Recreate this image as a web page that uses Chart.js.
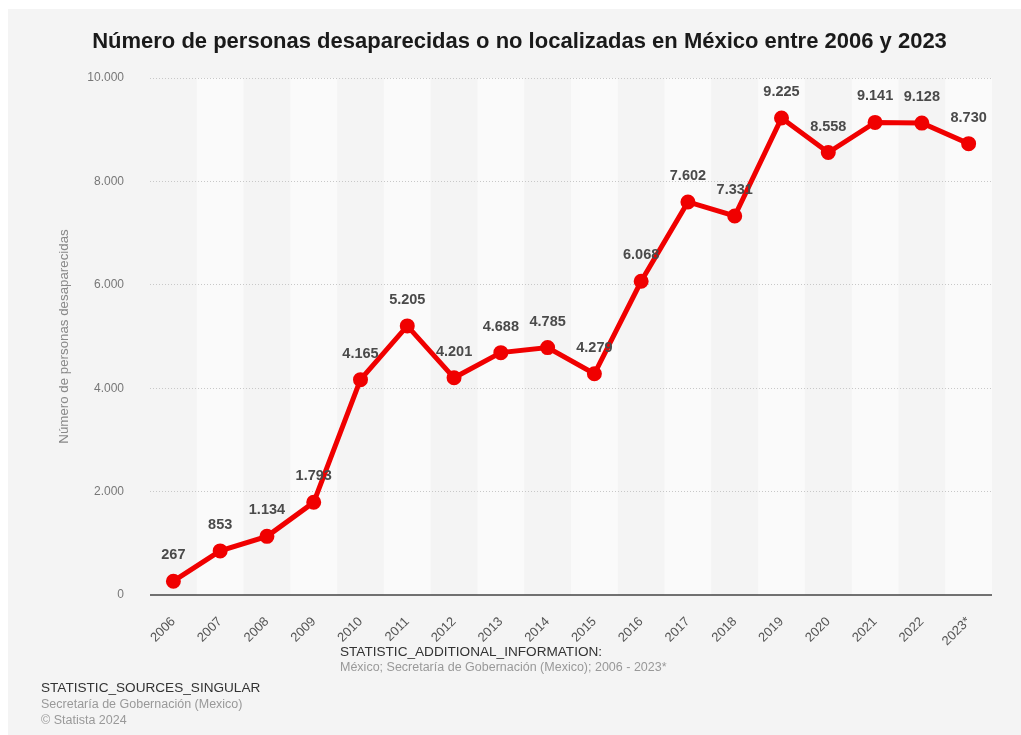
<!DOCTYPE html>
<html>
<head>
<meta charset="utf-8">
<script src="https://cdn.jsdelivr.net/npm/chart.js@4"></script>
<style>
  body { margin: 0; background: #fff; font-family: "Liberation Sans", Arial, sans-serif; }
  #panel { position: absolute; left: 8px; top: 9px; width: 1013px; height: 726px; background: #f4f4f4; }
  #chartBox { position: absolute; left: 0; top: 0; width: 1013px; height: 726px; }
  .txt { position: absolute; white-space: nowrap; }
</style>
</head>
<body>
<div id="panel">
  <div id="chartBox"><canvas id="lineChart"></canvas></div>
</div>
<div class="txt" style="left:0; width:1039px; top:28px; text-align:center; font-size:22px; font-weight:bold; color:#1a1a1a;">Número de personas desaparecidas o no localizadas en México entre 2006 y 2023</div>
<div class="txt" style="left:340px; top:644px; font-size:13.6px; color:#333;">STATISTIC_ADDITIONAL_INFORMATION:</div>
<div class="txt" style="left:340px; top:660px; font-size:12.5px; color:#999;">México; Secretaría de Gobernación (Mexico); 2006 - 2023*</div>
<div class="txt" style="left:41px; top:680px; font-size:13.6px; color:#333;">STATISTIC_SOURCES_SINGULAR</div>
<div class="txt" style="left:41px; top:697px; font-size:12.5px; color:#999;">Secretaría de Gobernación (Mexico)</div>
<div class="txt" style="left:41px; top:713px; font-size:12.5px; color:#999;">© Statista 2024</div>
<script>
const years = ['2006', '2007', '2008', '2009', '2010', '2011', '2012', '2013', '2014', '2015', '2016', '2017', '2018', '2019', '2020', '2021', '2022', '2023*'];
const missing = [267, 853, 1134, 1793, 4165, 5205, 4201, 4688, 4785, 4279, 6068, 7602, 7331, 9225, 8558, 9141, 9128, 8730];
const yTicks = [0, 2000, 4000, 6000, 8000, 10000];

const fmt = v => String(v).replace(/\B(?=(\d{3})+(?!\d))/g, '.');
const FONT = '"Liberation Sans", Arial, sans-serif';

// alternating light column bands
const stripes = {
  id: 'stripes',
  beforeDraw(chart) {
    const { ctx, chartArea, scales } = chart;
    const x = scales.x;
    const w = x.getPixelForValue(1) - x.getPixelForValue(0);
    ctx.save();
    ctx.fillStyle = '#fafafa';
    years.forEach((y, i) => {
      if (i % 2 === 1) {
        const cx = x.getPixelForValue(i);
        ctx.fillRect(cx - w / 2, chartArea.top, w, chartArea.bottom - chartArea.top);
      }
    });
    ctx.restore();
  }
};

// value labels above points
const valueLabels = {
  id: 'valueLabels',
  afterDatasetsDraw(chart) {
    const { ctx } = chart;
    const meta = chart.getDatasetMeta(0);
    ctx.save();
    ctx.font = 'bold 14.5px ' + FONT;
    ctx.fillStyle = '#4a4a4a';
    ctx.textAlign = 'center';
    ctx.textBaseline = 'middle';
    meta.data.forEach((pt, i) => {
      ctx.fillText(fmt(missing[i]), pt.x, pt.y - 26);
    });
    ctx.restore();
  }
};

// baseline
const baseLine = {
  id: 'baseLine',
  beforeDatasetsDraw(chart) {
    const { ctx, chartArea, scales } = chart;
    const y0 = scales.y.getPixelForValue(0);
    ctx.save();
    ctx.strokeStyle = '#444';
    ctx.lineWidth = 1.5;
    ctx.beginPath();
    ctx.moveTo(chartArea.left, y0);
    ctx.lineTo(chartArea.right, y0);
    ctx.stroke();
    ctx.restore();
  }
};

const lineCtx = document.getElementById('lineChart').getContext('2d');
new Chart(lineCtx, {
  type: 'line',
  data: {
    labels: years,
    datasets: [{
      data: missing,
      borderColor: '#f00000',
      backgroundColor: '#f00000',
      borderWidth: 5,
      pointRadius: 5,
      pointHoverRadius: 5,
      tension: 0
    }]
  },
  plugins: [stripes, baseLine, valueLabels],
  options: {
    responsive: true,
    maintainAspectRatio: false,
    animation: false,
    layout: { padding: { top: 69, right: 29, left: 0, bottom: 80 } },
    plugins: {
      legend: { display: false },
      tooltip: { enabled: false }
    },
    scales: {
      x: {
        offset: true,
        grid: { display: false },
        border: { display: false },
        afterFit(s) { s.height = 60; },
        ticks: {
          color: '#555',
          font: { size: 13, family: FONT },
          minRotation: 45,
          maxRotation: 45,
          padding: 11,
          autoSkip: false
        }
      },
      y: {
        min: 0,
        max: 10000,
        afterFit(s) { s.width = 142; },
        afterBuildTicks(s) { s.ticks = yTicks.map(v => ({ value: v })); },
        border: { display: false, dash: [1, 2] },
        grid: {
          color: c => c.tick.value === 0 ? 'rgba(0,0,0,0)' : '#c8c8c8',
          drawTicks: false
        },
        ticks: {
          color: '#777',
          font: { size: 12, family: FONT },
          padding: 26,
          callback: v => fmt(v)
        },
        title: {
          display: true,
          text: 'Número de personas desaparecidas',
          color: '#888',
          font: { size: 13.3, family: FONT },
          padding: { top: 48, bottom: 0 }
        }
      }
    }
  }
});
</script>
</body>
</html>
